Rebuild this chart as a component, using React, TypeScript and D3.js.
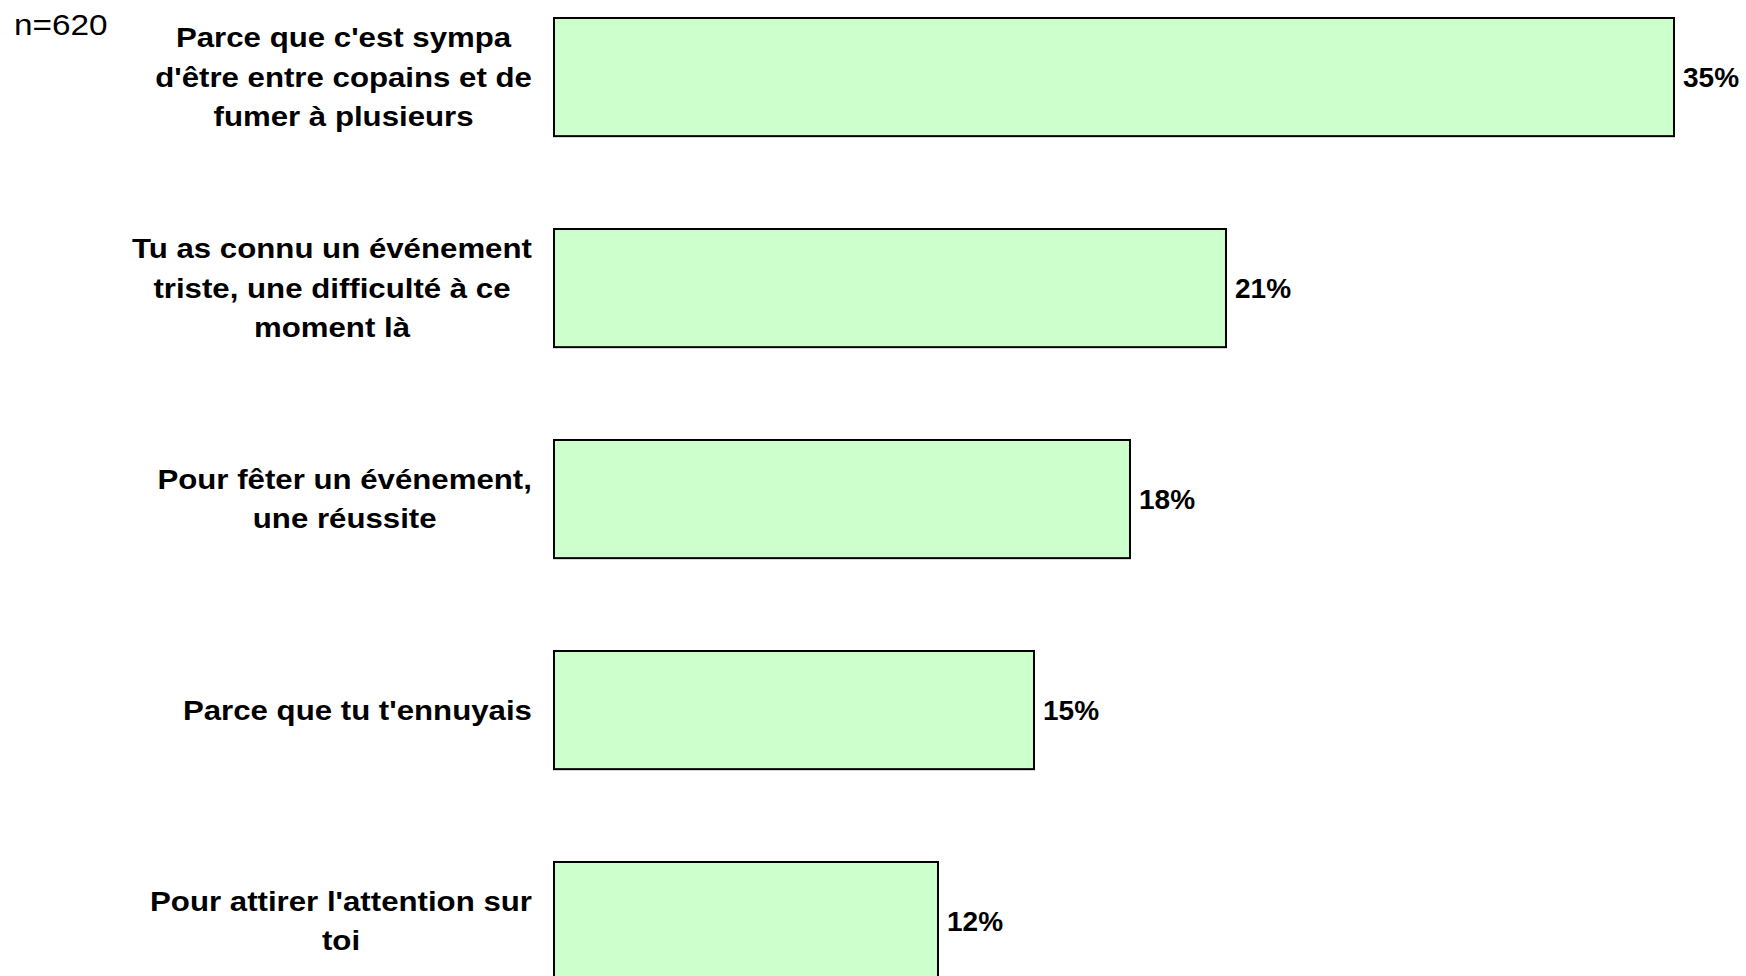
import { useMemo } from "react";
import * as d3 from "d3";

const W = 1746;
const H = 976;

const categories = [
    ["Parce que c'est sympa", "d'être entre copains et de", "fumer à plusieurs"],
    ["Tu as connu un événement", "triste, une difficulté à ce", "moment là"],
    ["Pour fêter un événement,", "une réussite"],
    ["Parce que tu t'ennuyais"],
    ["Pour attirer l'attention sur", "toi"],
];
const values = [35, 21, 18, 15, 12];
const valueLabels = ["35%", "21%", "18%", "15%", "12%"];
const sampleNote = "n=620";

const FONT = "'Liberation Sans', Arial, Helvetica, sans-serif";
const LABEL_SIZE = 27;
const LABEL_STRETCH = 1.156;
const LINE_H = 39.5;

let ctx: CanvasRenderingContext2D | null = null;
function measure(text: string) {
    if (!ctx) ctx = document.createElement("canvas").getContext("2d");
    if (!ctx) return text.length * LABEL_SIZE * 0.55;
    ctx.font = `bold ${LABEL_SIZE}px ${FONT}`;
    return ctx.measureText(text).width;
}

export default function App() {
    const barLeft = 554;
    const labelRight = 532;
    const step = 211;
    const pad = 0.44;

    const x = useMemo(() => d3.scaleLinear().domain([0, 35]).range([0, 1120]), []);
    const y = useMemo(() => {
        const top = 18 - (step * pad) / 2;
        return d3
            .scaleBand<number>()
            .domain(d3.range(values.length))
            .range([top, top + step * values.length])
            .paddingInner(pad)
            .paddingOuter(pad / 2);
    }, []);

    return (
        <div style={{ position: "fixed", left: 0, top: 0, width: W, height: H, background: "#fff" }}>
            <svg width={W} height={H} style={{ display: "block" }}>
                <text
                    transform={`translate(14,35) scale(1.15,1)`}
                    fontFamily={FONT}
                    fontSize={29}
                    fill="#000"
                >
                    {sampleNote}
                </text>
                {values.map((v, i) => {
                    const y0 = y(i) ?? 0;
                    const bh = y.bandwidth();
                    const cy = y0 + bh / 2;
                    const lines = categories[i];
                    const maxW = d3.max(lines, (l) => measure(l)) ?? 0;
                    const cx = labelRight - (maxW * LABEL_STRETCH) / 2;
                    const firstBase = cy - ((lines.length - 1) * LINE_H) / 2 + 9.5;
                    return (
                        <g key={i}>
                            <rect
                                x={barLeft}
                                y={y0}
                                width={x(v)}
                                height={bh}
                                fill="#CCFFCC"
                                stroke="#000"
                                strokeWidth={2}
                            />
                            <g transform={`translate(${cx},0) scale(${LABEL_STRETCH},1)`}>
                                {lines.map((l, j) => (
                                    <text
                                        key={j}
                                        x={0}
                                        y={firstBase + j * LINE_H}
                                        textAnchor="middle"
                                        fontFamily={FONT}
                                        fontWeight="bold"
                                        fontSize={LABEL_SIZE}
                                        fill="#000"
                                    >
                                        {l}
                                    </text>
                                ))}
                            </g>
                            <text
                                x={barLeft + x(v) + 9}
                                y={cy + 10}
                                fontFamily={FONT}
                                fontWeight="bold"
                                fontSize={28}
                                fill="#000"
                            >
                                {valueLabels[i]}
                            </text>
                        </g>
                    );
                })}
            </svg>
        </div>
    );
}
